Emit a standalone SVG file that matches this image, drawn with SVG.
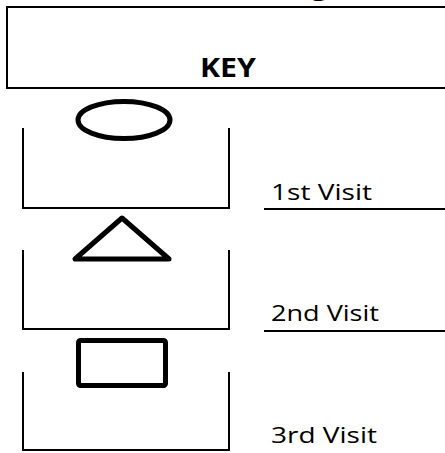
<svg xmlns="http://www.w3.org/2000/svg" width="445" height="453" viewBox="0 0 445 453">
<style>
.line{fill:none;stroke:#000;stroke-width:2}
.shape{fill:none;stroke:#000;stroke-width:5;stroke-linejoin:round}
.label{font-family:"Open Sans","Liberation Sans",sans-serif;font-size:22px;fill:#000}
.title{font-family:"Open Sans","Liberation Sans",sans-serif;font-size:26px;font-weight:bold;fill:#000}
</style>
<rect width="445" height="453" fill="#fff"/>
<text class="title" x="310" y="-7.5" style="font-size:34px">g</text>
<g id="key-header">
<rect class="line" x="7" y="7" width="450" height="81"/>
<text class="title" x="200" y="77" textLength="56" lengthAdjust="spacingAndGlyphs">KEY</text>
</g>
<g id="visit-1">
<ellipse class="shape" cx="124" cy="120" rx="46" ry="18.5"/>
<polyline class="line" points="23,128 23,208 229,208 229,128"/>
<line class="line" x1="264" y1="209" x2="445" y2="209"/>
<text class="label" x="271" y="200" textLength="101" lengthAdjust="spacingAndGlyphs">1st Visit</text>
</g>
<g id="visit-2">
<polygon class="shape" points="122,218 75,259 169,259"/>
<polyline class="line" points="23,250 23,329 229,329 229,250"/>
<line class="line" x1="264" y1="331" x2="445" y2="331"/>
<text class="label" x="271" y="321" textLength="108" lengthAdjust="spacingAndGlyphs">2nd Visit</text>
</g>
<g id="visit-3">
<rect class="shape" x="78.5" y="340.5" width="87" height="45" rx="2"/>
<polyline class="line" points="23,372 23,450 229,450 229,372"/>
<text class="label" x="271" y="443" textLength="106" lengthAdjust="spacingAndGlyphs">3rd Visit</text>
</g>
</svg>
